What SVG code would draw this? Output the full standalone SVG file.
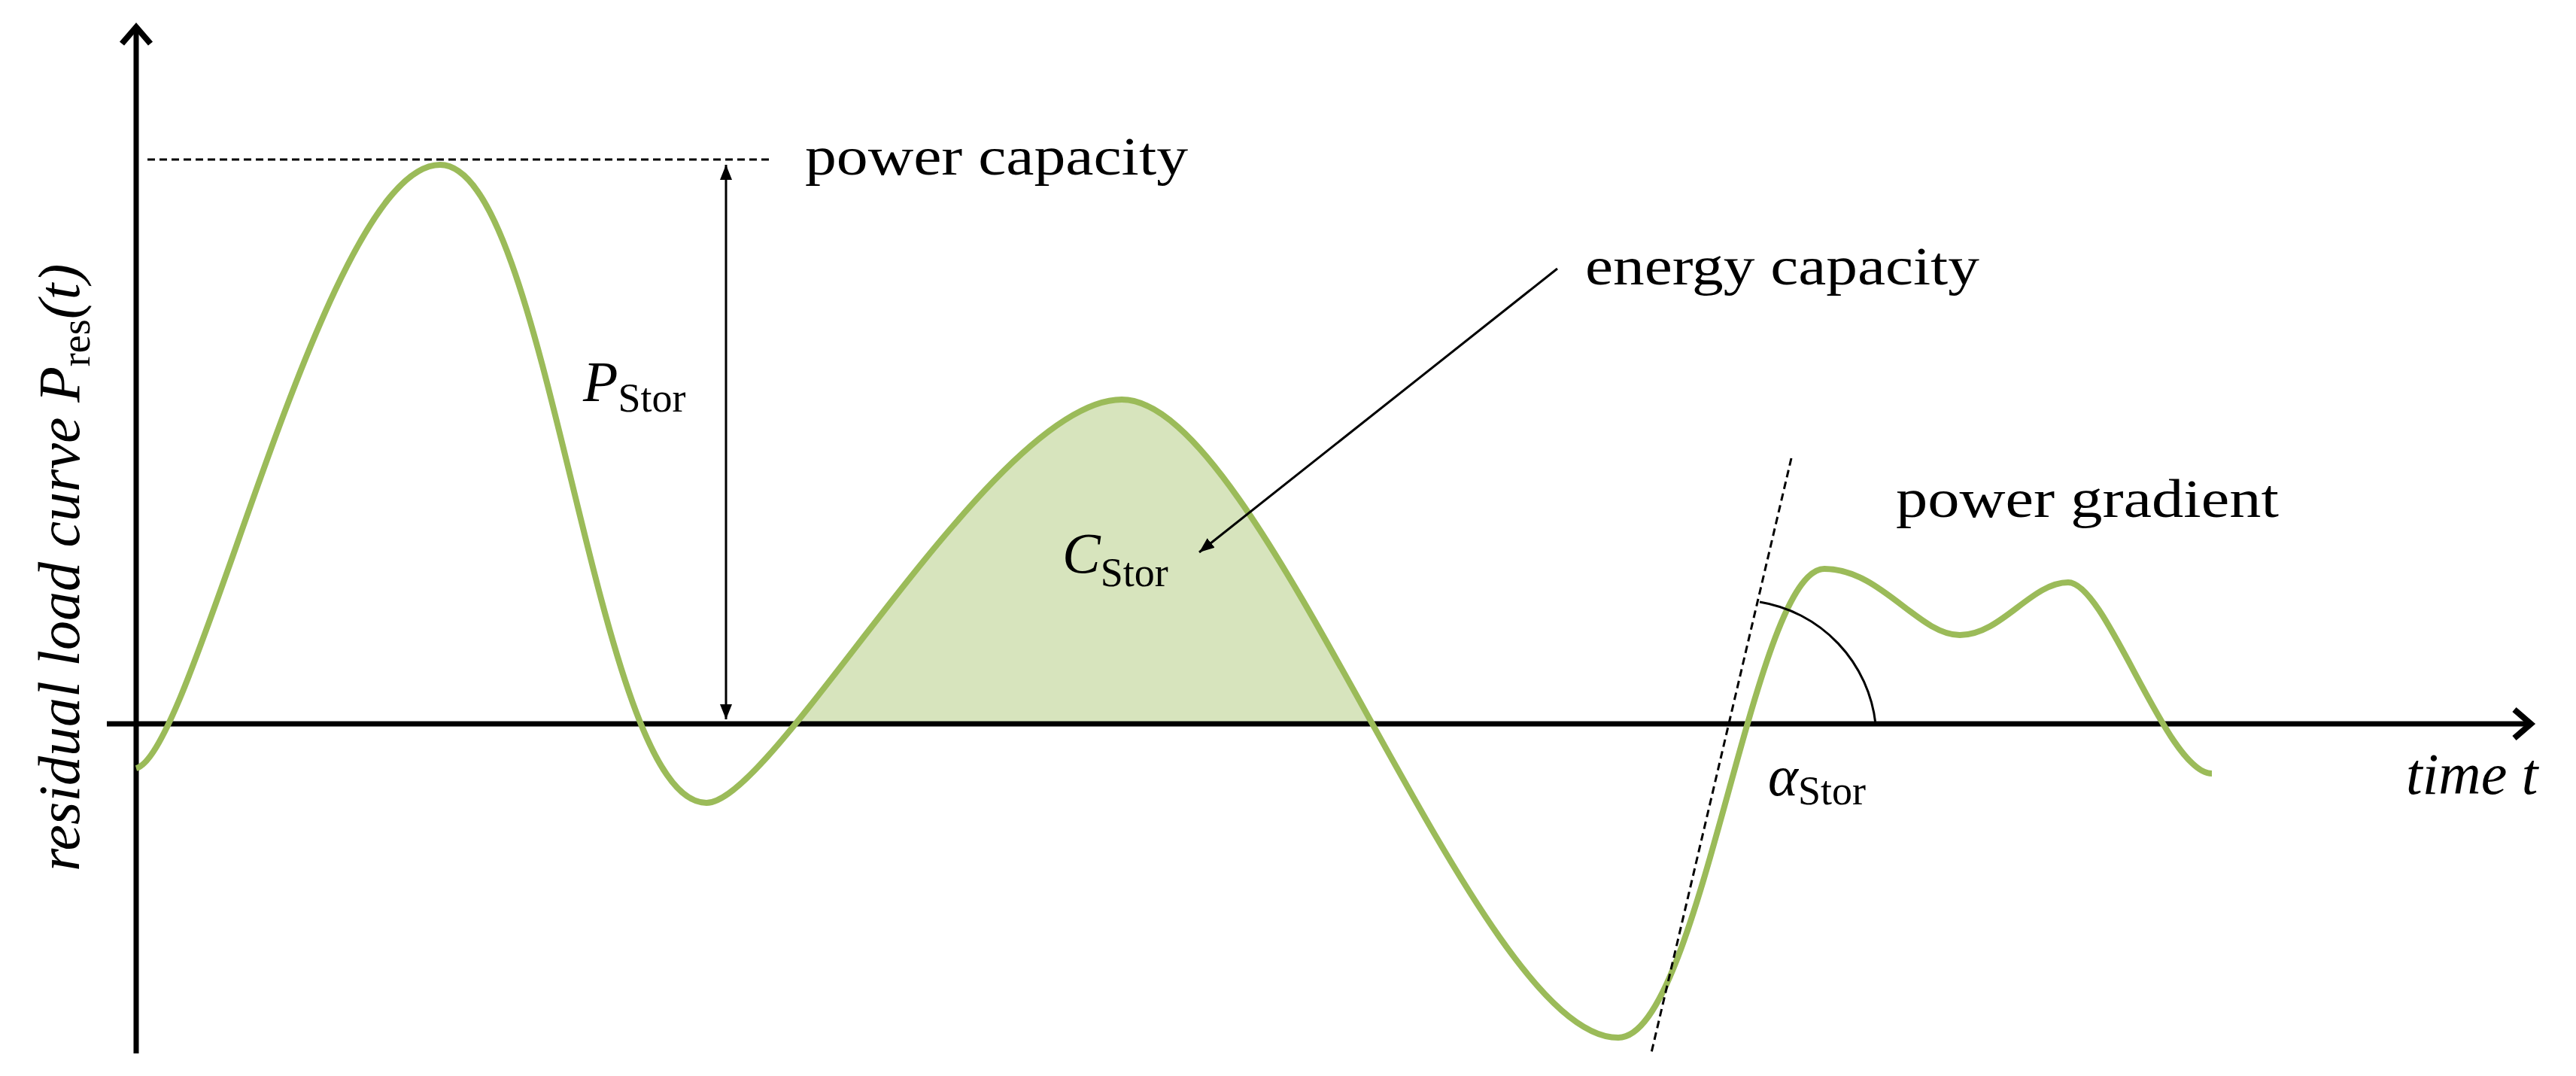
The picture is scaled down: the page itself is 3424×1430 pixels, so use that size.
<svg xmlns="http://www.w3.org/2000/svg" width="3424" height="1430" viewBox="0 0 3424 1430">
<style>
.t{font-family:"Liberation Serif","DejaVu Serif",serif;fill:#000}
.i{font-style:italic}
.curve{fill:none;stroke:#9bbb59;stroke-width:8}
.axis{stroke:#000;stroke-width:7;fill:none}
.thin{stroke:#000;stroke-width:3;fill:none}
.dash{stroke:#000;stroke-width:3;stroke-dasharray:10 6;fill:none}
</style>
<defs>
<marker id="ax" markerWidth="10" markerHeight="10" refX="8" refY="5" orient="auto" markerUnits="userSpaceOnUse" viewBox="0 0 10 10"><path d="M0,0 L8,5 L0,10" fill="none" stroke="#000" stroke-width="2"/></marker>
<marker id="ah" markerWidth="24" markerHeight="24" refX="20" refY="12" orient="auto-start-reverse" markerUnits="userSpaceOnUse"><path d="M0,4 L20,12 L0,20 Z" fill="#000"/></marker>
<marker id="axh" markerWidth="50" markerHeight="50" refX="40" refY="25" orient="auto" markerUnits="userSpaceOnUse"><path d="M18,6 L40,25 L18,44" fill="none" stroke="#000" stroke-width="8"/></marker>
<clipPath id="above"><rect x="0" y="0" width="3424" height="962"/></clipPath>
</defs>
<g id="fill-area">
<path d="M939,1067 C1030,1067 1320,531 1491,531 C1680,531 1960,1379 2151,1379 Z" fill="#d7e4bd" clip-path="url(#above)"/>
</g>
<g id="axes">
<line class="axis" x1="181" y1="1400" x2="181" y2="36" marker-end="url(#axh)"/>
<line class="axis" x1="142" y1="962" x2="3364" y2="962" marker-end="url(#axh)"/>
</g>
<g id="curve">
<path class="curve" d="M181,1021 C260,1000 430,219 585,219 C730,219 790,1067 939,1067 C1030,1067 1320,531 1491,531 C1680,531 1960,1379 2151,1379 C2260,1379 2330,756 2425,756 C2500,756 2550,844 2605,844 C2660,844 2700,774 2749,774 C2800,774 2880,1028 2940,1028"/>
</g>
<g id="connectors">
<line class="dash" x1="196" y1="212" x2="1022" y2="212"/>
<line class="thin" x1="965" y1="219" x2="965" y2="956" marker-start="url(#ah)" marker-end="url(#ah)"/>
<line class="thin" x1="2070" y1="357" x2="1594" y2="734" marker-end="url(#ah)"/>
<line class="dash" x1="2381" y1="609" x2="2195" y2="1399"/>
<path class="thin" d="M2339,800 A185,185 0 0 1 2493,962"/>
</g>
<g id="labels">
<text class="t" x="1070" y="232" font-size="72" textLength="509" lengthAdjust="spacingAndGlyphs">power capacity</text>
<text class="t" x="2107" y="378" font-size="72" textLength="524" lengthAdjust="spacingAndGlyphs">energy capacity</text>
<text class="t" x="2520" y="687" font-size="72" textLength="509" lengthAdjust="spacingAndGlyphs">power gradient</text>
<text class="t" x="775" y="533" font-size="76"><tspan class="i">P</tspan><tspan font-size="54" dy="14">Stor</tspan></text>
<text class="t" x="1412" y="761" font-size="76"><tspan class="i">C</tspan><tspan font-size="54" dy="18">Stor</tspan></text>
<text class="t" x="2350" y="1057" font-size="76"><tspan class="i">α</tspan><tspan font-size="54" dy="12">Stor</tspan></text>
<text class="t i" x="3198" y="1055" font-size="78">time t</text>
<text class="t" transform="translate(105,1158) rotate(-90)" font-size="78"><tspan class="i">residual load curve  P</tspan><tspan font-size="54" dy="14">res</tspan><tspan class="i" dy="-14">(t)</tspan></text>
</g>
</svg>
